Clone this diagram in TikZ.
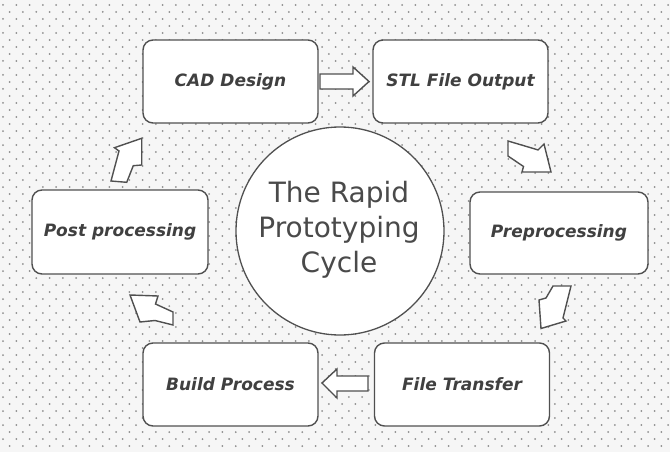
\documentclass[tikz,border=0pt]{standalone}
\usepackage{fontspec}
\newfontfamily\dvfont{DejaVu Sans}
\definecolor{linegray}{HTML}{505050}
\definecolor{textgray}{HTML}{404040}
\definecolor{hubtext}{HTML}{4A4A4A}
\definecolor{bggray}{HTML}{F6F6F6}
\definecolor{dotgray}{HTML}{8E8E8E}
\begin{document}
\begin{tikzpicture}[x=1pt,y=-1pt,
  stage/.style={draw=linegray,line width=1.4pt,rounded corners=10pt,fill=white,
    minimum width=175pt,minimum height=83pt,inner sep=0pt,
    font=\dvfont\bfseries\itshape\fontsize{17}{20}\selectfont,text=textgray},
  blockarrow/.style={draw=linegray,line width=1.4pt,fill=white,line join=miter}]
\fill[bggray] (0,0) rectangle (670,452);
\useasboundingbox (0,0) rectangle (670,452);
% dotted background
\foreach \r in {0,...,64} {
  \pgfmathsetmacro\yy{5+7*\r}
  \pgfmathsetmacro\off{mod(\r,2)*6.65}
  \foreach \c in {0,...,50} {
    \fill[dotgray] ({3+\off+13.3*\c},\yy) circle (1pt);
  }
}
% central circle
\node[circle,draw=linegray,line width=1.3pt,fill=white,minimum size=208pt,inner sep=0pt] (hub) at (340,231) {};
\node[align=center,text=hubtext,font=\dvfont\fontsize{28}{35}\selectfont] (hubtitle) at (339,230) {The Rapid\\Prototyping\\Cycle};
% stages
\node[stage] (cad) at (230.5,81.5) {CAD Design};
\node[stage] (stl) at (460.5,81.5) {STL File Output};
\node[stage,minimum width=178pt,minimum height=82pt] (pre) at (559,233) {Preprocessing};
\node[stage] (ft) at (462,384.5) {File Transfer};
\node[stage] (build) at (230.5,384.5) {Build Process};
\node[stage,minimum width=176pt,minimum height=84pt] (post) at (120,232) {Post processing};
% block arrows
\draw[blockarrow] (320,74) -- (353,74) -- (353,67) -- (369,81.5) -- (353,96) -- (353,89) -- (320,89) -- cycle;
\draw[blockarrow] (508,141) -- (535,149) -- (538,150) -- (544,144) -- (551,172) -- (522,172) -- (523.5,166.5) -- (508,156) -- cycle;
\draw[blockarrow] (553,286) -- (571,286) -- (563,318) -- (566,321) -- (541,328.5) -- (539,300) -- (546,298) -- cycle;
\draw[blockarrow] (368,376) -- (337,376) -- (337,369) -- (322,383) -- (337,398) -- (337,391) -- (368,391) -- cycle;
\draw[blockarrow] (130,295) -- (158,296) -- (155.5,304) -- (173,312) -- (173,325) -- (155,320.5) -- (140,322) -- cycle;
\draw[blockarrow] (141.7,138.3) -- (114.5,147.7) -- (119,151) -- (111,181) -- (126.7,182.3) -- (133.3,165.7) -- (141.7,165) -- cycle;
\end{tikzpicture}
\end{document}
